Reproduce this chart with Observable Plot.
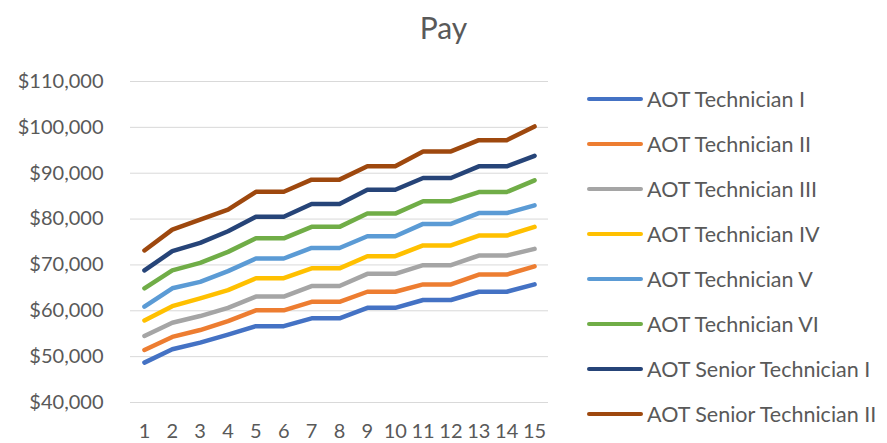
<!DOCTYPE html>
<html>
<head>
<meta charset="utf-8">
<script src="https://cdn.jsdelivr.net/npm/d3@7"></script>
<script src="https://cdn.jsdelivr.net/npm/@observablehq/plot@0.6"></script>
<style>
  html, body { margin: 0; padding: 0; background: #fff; }
  #wrap { position: relative; width: 887px; height: 443px; font-family: Lato, sans-serif; color: #595959; }
  #title { position: absolute; left: 0; top: 0; width: 887px; height: 50px; text-align: center; font-size: 30px; line-height: 54px; color: #595959; }
  #chart { position: absolute; left: 0; top: 50px; }
  #legend { position: absolute; left: 587px; top: 0; }
  .item { position: absolute; left: 0; white-space: nowrap; font-size: 21.5px; display: flex; align-items: center; height: 30px; }
  .sw { width: 56px; height: 4px; border-radius: 2px; margin-right: 4px; }
</style>
</head>
<body>
<div id="wrap">
  <div id="title">Pay</div>
  <div id="chart"></div>
  <div id="legend"></div>
</div>
<script>
const steps = [1, 2, 3, 4, 5, 6, 7, 8, 9, 10, 11, 12, 13, 14, 15];
const seriesNames = ["AOT Technician I", "AOT Technician II", "AOT Technician III", "AOT Technician IV",
  "AOT Technician V", "AOT Technician VI", "AOT Senior Technician I", "AOT Senior Technician II"];
const seriesColors = ["#4472C4", "#ED7D31", "#A5A5A5", "#FFC000", "#5B9BD5", "#70AD47", "#264478", "#9E480E"];
const yTicks = [40000, 50000, 60000, 70000, 80000, 90000, 100000, 110000];

const techI    = [48700, 51600, 53050, 54800, 56650, 56650, 58350, 58350, 60650, 60650, 62350, 62350, 64150, 64150, 65750];
const techII   = [51450, 54300, 55800, 57750, 60100, 60100, 61950, 61950, 64150, 64150, 65750, 65750, 67900, 67900, 69700];
const techIII  = [54500, 57400, 58850, 60650, 63100, 63100, 65400, 65400, 68050, 68050, 69950, 69950, 72050, 72050, 73500];
const techIV   = [57900, 61000, 62700, 64500, 67100, 67100, 69250, 69250, 71900, 71900, 74250, 74250, 76400, 76400, 78300];
const techV    = [60900, 64900, 66300, 68650, 71400, 71400, 73700, 73700, 76250, 76250, 78950, 78950, 81300, 81300, 83000];
const techVI   = [64900, 68800, 70450, 72850, 75800, 75800, 78300, 78300, 81200, 81200, 83900, 83900, 85900, 85900, 88450];
const seniorI  = [68800, 73000, 74800, 77350, 80500, 80500, 83300, 83300, 86400, 86400, 88950, 88950, 91500, 91500, 93800];
const seniorII = [73150, 77700, 79900, 82050, 85950, 85950, 88600, 88600, 91500, 91500, 94750, 94750, 97200, 97200, 100200];

const allSeries = [techI, techII, techIII, techIV, techV, techVI, seniorI, seniorII];
const rows = [];
allSeries.forEach((vals, i) => vals.forEach((v, j) => rows.push({series: seriesNames[i], step: steps[j], pay: v})));

const fmt = d3.format("$,.0f");

const chart = Plot.plot({
  width: 887,
  height: 393,
  marginLeft: 130,
  marginRight: 339,
  marginTop: 31,
  marginBottom: 41,
  style: {fontFamily: "Lato, sans-serif", fontSize: "20px", color: "#595959", background: "transparent"},
  x: {type: "point", domain: steps, padding: 0.5, round: false, label: null, tickSize: 0, tickPadding: 21},
  y: {domain: [40000, 110000], ticks: yTicks, tickFormat: fmt, label: null, tickSize: 0, tickPadding: 27},
  color: {domain: seriesNames, range: seriesColors},
  marks: [
    Plot.ruleY(yTicks, {stroke: "#d9d9d9", strokeWidth: 1}),
    Plot.line(rows, {x: "step", y: "pay", z: "series", stroke: "series", strokeWidth: 4.5,
      strokeLinecap: "round", strokeLinejoin: "round"})
  ]
});
document.getElementById("chart").appendChild(chart);

const legend = document.getElementById("legend");
seriesNames.forEach((name, i) => {
  const it = document.createElement("div");
  it.className = "item";
  it.style.top = (99 + i * 45 - 15) + "px";
  const sw = document.createElement("div");
  sw.className = "sw";
  sw.style.background = seriesColors[i];
  const tx = document.createElement("span");
  tx.textContent = name;
  it.appendChild(sw);
  it.appendChild(tx);
  legend.appendChild(it);
});
</script>
</body>
</html>
